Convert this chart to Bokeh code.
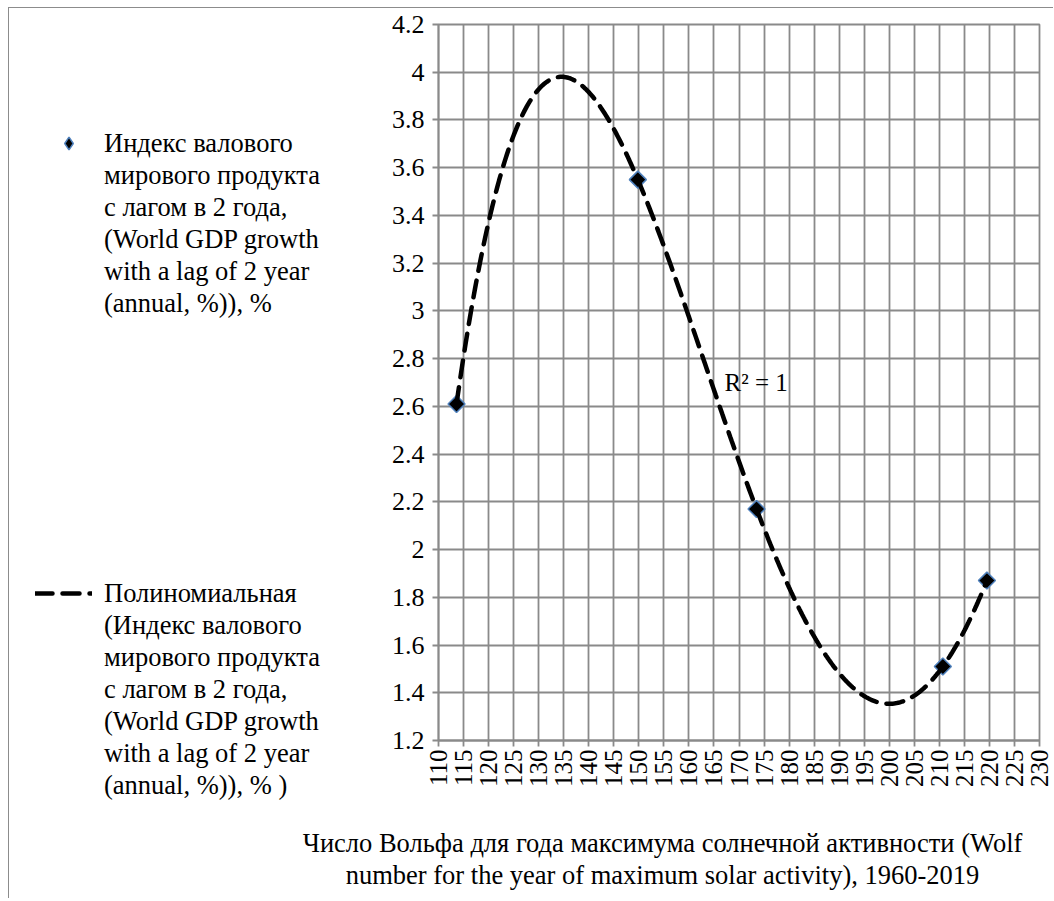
import numpy as np
from bokeh.plotting import figure
from bokeh.layouts import column, row
from bokeh.models import FixedTicker, Label, Legend, LegendItem, Range1d
from bokeh.embed import file_html
from bokeh.resources import INLINE

# ---- data ----
wolf = [113.6, 149.8, 173.5, 210.7, 219.5]
gdp = [2.61, 3.55, 2.17, 1.51, 1.87]

x_ticks = [110, 115, 120, 125, 130, 135, 140, 145, 150, 155, 160, 165, 170,
           175, 180, 185, 190, 195, 200, 205, 210, 215, 220, 225, 230]
y_ticks = [1.2, 1.4, 1.6, 1.8, 2.0, 2.2, 2.4, 2.6, 2.8, 3.0, 3.2, 3.4, 3.6,
           3.8, 4.0, 4.2]
y_tick_labels = ["1.2", "1.4", "1.6", "1.8", "2", "2.2", "2.4", "2.6", "2.8",
                 "3", "3.2", "3.4", "3.6", "3.8", "4", "4.2"]

series_label_lines = ["Индекс валового", "мирового продукта",
                      "с лагом в 2 года,", "(World GDP growth",
                      "with a lag of 2 year", "(annual, %)), %"]
trend_label_lines = ["Полиномиальная", "(Индекс валового", "мирового продукта",
                     "с лагом в 2 года,", "(World GDP growth",
                     "with a lag of 2 year", "(annual, %)), % )"]
x_title_lines = ["Число Вольфа для года максимума солнечной активности (Wolf",
                 "number for the year of maximum solar activity), 1960-2019"]
r2_text = "R² = 1"
poly_degree = 4

FONT = "Liberation Serif"
GRID = "#8a8a8a"
BORDER = "#8c8c8c"
W = 1044
LEFT_W = 369
MAIN_H = 16 + 716 + 66
TITLE_H = 92
LINE_H = 32

# polynomial trend line (as in the original chart)
coef = np.polyfit(wolf, gdp, poly_degree)
trend_x = np.linspace(min(wolf), max(wolf), 400)
trend_y = np.polyval(coef, trend_x)

def blank(width, height):
    f = figure(width=width, height=height, x_range=Range1d(0, width),
               y_range=Range1d(height, 0), x_axis_location=None,
               y_axis_location=None, min_border=0, title=None,
               output_backend="svg", toolbar_location=None,
               outline_line_color=None, background_fill_color="white",
               border_fill_color="white")
    f.grid.visible = False
    return f

# ---- main chart ----
p = figure(frame_width=601, frame_height=716, title=None,
           min_border_left=60, min_border_right=W - LEFT_W - 60 - 601,
           min_border_top=16, min_border_bottom=66,
           x_range=(110, 230), y_range=(1.2, 4.2),
           output_backend="svg", toolbar_location=None,
           background_fill_color="white", border_fill_color="white")

p.outline_line_color = GRID
p.outline_line_width = 1.8

for ax in (p.xaxis[0], p.yaxis[0]):
    ax.axis_line_color = GRID
    ax.axis_line_width = 1.8
    ax.major_tick_line_color = GRID
    ax.major_tick_line_width = 1.8
    ax.major_tick_in = 0
    ax.major_tick_out = 6
    ax.minor_tick_line_color = None
    ax.major_label_text_font = FONT
    ax.major_label_text_color = "black"

p.xaxis.major_label_text_font_size = "25px"
p.yaxis.major_label_text_font_size = "26px"
p.xaxis.ticker = FixedTicker(ticks=x_ticks)
p.xaxis.major_label_orientation = np.pi / 2
p.xaxis.major_label_standoff = 3
p.yaxis.ticker = FixedTicker(ticks=y_ticks)
p.yaxis.major_label_overrides = {t: s for t, s in zip(y_ticks, y_tick_labels)}
p.yaxis.major_label_standoff = 8

p.xgrid.ticker = FixedTicker(ticks=x_ticks)
p.ygrid.ticker = FixedTicker(ticks=y_ticks)
for g in (p.xgrid[0], p.ygrid[0]):
    g.grid_line_color = GRID
    g.grid_line_width = 1.8
    g.grid_line_alpha = 1.0

MARKER_STYLE = dict(size=12, fill_color="black", line_color="#4f81bd",
                    line_width=1.5)
TREND = dict(line_color="black", line_width=4.5, line_dash="17 10",
             line_cap="round")

p.scatter(wolf, gdp, marker="square", angle=np.pi / 4, **MARKER_STYLE)
p.line(trend_x, trend_y, **TREND)

p.add_layout(Label(x=167.1, y=2.70, text=r2_text, text_font=FONT,
                   text_font_size="25px", text_baseline="middle",
                   text_align="left", text_color="black"))

# ---- legend panel ----
lf = blank(LEFT_W, MAIN_H)
tf = blank(W, TITLE_H)

# keep the legend panel's frame as large as its canvas (no frame alignment)
can_unalign = "frame_align" in lf.properties()
if can_unalign:
    for f in (lf, tf, p):
        f.frame_align = False
    frame_bottom = MAIN_H
else:
    frame_bottom = MAIN_H - 66

# hidden copies of the two series, used only as legend keys
pts_key = lf.scatter(wolf, gdp, marker="diamond", visible=False, **MARKER_STYLE)
trend_key = lf.line(trend_x, trend_y, visible=False, **TREND)

def make_legend(lines, key, x, top, standoff):
    items = [LegendItem(label=lines[0], renderers=[key])]
    items += [LegendItem(label=s, renderers=[]) for s in lines[1:]]
    bottom = top + len(lines) * LINE_H
    vy = max(frame_bottom - bottom, 0)
    lg = Legend(items=items, location=(x, vy), border_line_color=None,
                background_fill_alpha=0, padding=0, margin=0, spacing=0,
                glyph_width=57, glyph_height=LINE_H, label_height=LINE_H,
                label_standoff=standoff,
                label_text_font=FONT, label_text_font_size="26.5px",
                label_text_line_height=1.0, label_text_color="black")
    lf.add_layout(lg)

make_legend(series_label_lines, pts_key, 31, 119, 7)
make_legend(trend_label_lines, trend_key, 26, 569, 12)

# ---- x axis title ----
for i, line in enumerate(x_title_lines):
    tf.add_layout(Label(x=653, y=36 + i * 32, text=line, text_font=FONT,
                        text_font_size="26.5px", text_baseline="middle",
                        text_align="center", text_color="black"))

layout = column(row(lf, p), tf, margin=(7, 0, 0, 8),
                styles={"border-left": f"1px solid {BORDER}",
                        "border-top": f"1px solid {BORDER}"})
open("out.html", "w").write(file_html(layout, INLINE))
